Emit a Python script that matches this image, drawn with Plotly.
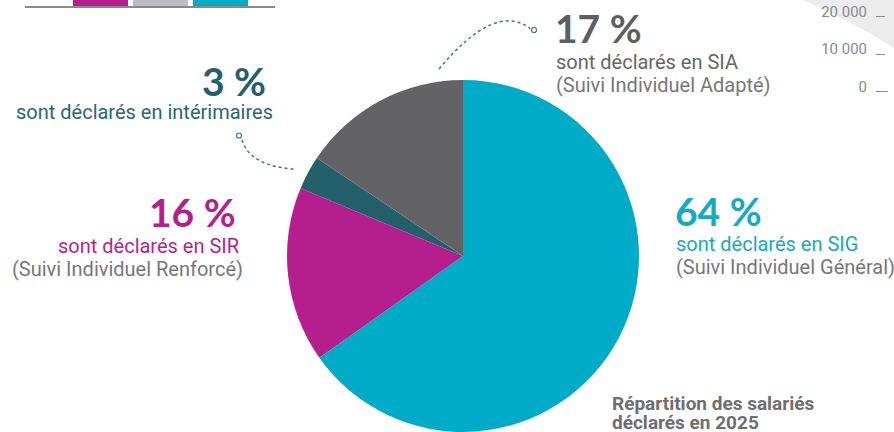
import plotly.graph_objects as go

W, H = 894, 432

# ---- data ----
pie_labels = ["SIG", "SIR", "Intérimaires", "SIA"]
pie_values = [65.2, 16.1, 3.1, 15.6]
pie_colors = ["#00ABC8", "#B41F8D", "#23606C", "#636366"]

bar_categories = ["SIR", "SIA", "SIG"]
bar_values = [40000, 40000, 40000]
bar_colors = ["#B41F8D", "#BDBDC1", "#00ABC8"]

right_tick_vals = [0, 10000, 20000]
right_tick_text = ["0", "10 000", "20 000"]


def px(x):
    return x / W


def py(y):
    return 1 - y / H


fig = go.Figure()

# main pie
fig.add_trace(go.Pie(
    labels=pie_labels, values=pie_values, sort=False, direction="clockwise",
    rotation=0, marker=dict(colors=pie_colors, line=dict(width=0)),
    textinfo="none", hoverinfo="label+percent", showlegend=False,
    domain=dict(x=[px(287), px(639)], y=[0, py(80)]),
))

# top-left fragment of a bar chart
fig.add_trace(go.Bar(
    x=bar_categories, y=bar_values, marker=dict(color=bar_colors, line=dict(width=0)),
    width=0.917, showlegend=False, xaxis="x", yaxis="y",
))

# top-right fragment of another chart's axis
fig.add_trace(go.Scatter(x=[0, 1], y=[None, None], mode="lines", showlegend=False,
                         xaxis="x2", yaxis="y2"))

fig.update_layout(
    width=W, height=H, margin=dict(l=0, r=0, t=0, b=0),
    paper_bgcolor="white", plot_bgcolor="rgba(0,0,0,0)",
    font=dict(family="Roboto, sans-serif", color="#666666"),
    xaxis=dict(domain=[px(25), px(275)], range=[-1.258, 2.908], type="category",
               showticklabels=False, showgrid=False, zeroline=False,
               showline=True, linecolor="#8a8a8a", linewidth=1.5, anchor="y"),
    yaxis=dict(domain=[py(6), 1], range=[0, 1000], showgrid=False, zeroline=False,
               tickvals=[0], ticktext=["0"], tickfont=dict(size=15, color="#8a8a8a"),
               ticks="", anchor="x", ticklabelstandoff=6),
    xaxis2=dict(domain=[px(876), px(888)], range=[0, 1], showticklabels=False,
                showgrid=False, zeroline=False, showline=False, anchor="y2"),
    yaxis2=dict(domain=[py(105), 1], range=[-3550, 24450], tickvals=right_tick_vals,
                ticktext=right_tick_text, tickfont=dict(size=15, color="#8a8a8a"),
                showgrid=True, gridcolor="#8a8a8a", griddash="dash", gridwidth=1,
                zeroline=True, zerolinecolor="#8a8a8a", zerolinewidth=1,
                showline=False, ticks="", anchor="x2", ticklabelstandoff=8,
                ticklabelshift=-5),
    yaxis3=dict(domain=[py(105), 1], range=[-3550, 24450], overlaying="y2", side="right",
                showline=True, linecolor="#8a8a8a", linewidth=1, showticklabels=False,
                showgrid=False, zeroline=False, ticks="", anchor="x2"),
)

shapes = []
# decorative light-grey region top right
shapes.append(dict(type="path", xref="paper", yref="paper", layer="below",
                   path=f"M {px(803)},{py(0)} Q {px(850)},{py(20)} {px(894)},{py(48)} L {px(894)},{py(0)} Z",
                   fillcolor="#ECECEC", line=dict(width=0)))
# connectors
conn_color = "#3E7484"
shapes.append(dict(type="path", xref="paper", yref="paper",
                   path=f"M {px(439)},{py(69)} Q {px(495.5)},{py(1.5)} {px(530)},{py(28.5)}",
                   line=dict(color=conn_color, width=1.5, dash="dot")))
shapes.append(dict(type="circle", xref="paper", yref="paper",
                   x0=px(531.5), x1=px(536.5), y0=py(32.5), y1=py(27.5),
                   line=dict(color=conn_color, width=1.2), fillcolor="white"))
shapes.append(dict(type="path", xref="paper", yref="paper",
                   path=f"M {px(242)},{py(140)} Q {px(250)},{py(166)} {px(294)},{py(169)}",
                   line=dict(color=conn_color, width=1.5, dash="dot")))
shapes.append(dict(type="circle", xref="paper", yref="paper",
                   x0=px(236.5), x1=px(241.5), y0=py(138), y1=py(133),
                   line=dict(color=conn_color, width=1.2), fillcolor="white"))
fig.update_layout(shapes=shapes)

BIG = "Lato, Roboto, sans-serif"
TXT = "Roboto, sans-serif"


def ann(text, x, y, xanchor, size, color, family=TXT, weight="normal"):
    fig.add_annotation(text=text, x=px(x), y=py(y), xref="paper", yref="paper",
                       xanchor=xanchor, yanchor="middle", showarrow=False,
                       font=dict(family=family, size=size, color=color, weight=weight),
                       borderpad=0)


# SIA
ann("17 %", 554, 28, "left", 39, "#5E5E61", BIG, "bold")
ann("sont déclarés en SIA", 555, 62, "left", 20, "#666666")
ann("(Suivi Individuel Adapté)", 555, 85, "left", 20, "#777777")
# Intérimaires
ann("3 %", 267, 81, "right", 39, "#23606C", BIG, "bold")
ann("sont déclarés en intérimaires", 274, 112, "right", 20, "#2A6672")
# SIR
ann("16 %", 237, 212, "right", 39, "#B41F8D", BIG, "bold")
ann("sont déclarés en SIR", 240, 246, "right", 20, "#B41F8D")
ann("(Suivi Individuel Renforcé)", 244, 269, "right", 20, "#777777")
# SIG
ann("64 %", 674, 211, "left", 39, "#15A9C4", BIG, "bold")
ann("sont déclarés en SIG", 675, 244, "left", 20, "#15A9C4")
ann("(Suivi Individuel Général)", 675, 267, "left", 20, "#777777")
# title
ann("Répartition des salariés", 611, 403, "left", 19, "#6E6E70", TXT, "bold")
ann("déclarés en 2025", 611, 422, "left", 19, "#6E6E70", TXT, "bold")

fig.write_html("out.html", config={"displayModeBar": False},
               post_script="document.body.style.margin='0';")
